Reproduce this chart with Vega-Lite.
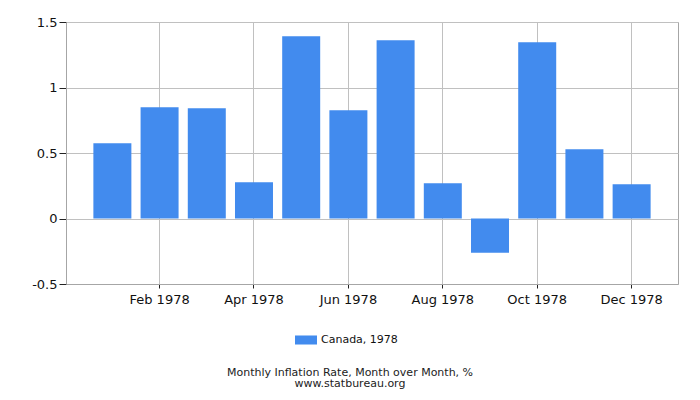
{
  "$schema": "https://vega.github.io/schema/vega-lite/v6.json",
  "width": 612,
  "height": 262,
  "autosize": {"type": "none"},
  "padding": {"left": 66, "top": 22, "right": 22, "bottom": 116},
  "background": "white",
  "data": {
    "values": [
      {"month": "Jan 1978", "rate": 0.575, "series": "Canada, 1978"},
      {"month": "Feb 1978", "rate": 0.85, "series": "Canada, 1978"},
      {"month": "Mar 1978", "rate": 0.842, "series": "Canada, 1978"},
      {"month": "Apr 1978", "rate": 0.277, "series": "Canada, 1978"},
      {"month": "May 1978", "rate": 1.392, "series": "Canada, 1978"},
      {"month": "Jun 1978", "rate": 0.827, "series": "Canada, 1978"},
      {"month": "Jul 1978", "rate": 1.36, "series": "Canada, 1978"},
      {"month": "Aug 1978", "rate": 0.27, "series": "Canada, 1978"},
      {"month": "Sep 1978", "rate": -0.262, "series": "Canada, 1978"},
      {"month": "Oct 1978", "rate": 1.346, "series": "Canada, 1978"},
      {"month": "Nov 1978", "rate": 0.529, "series": "Canada, 1978"},
      {"month": "Dec 1978", "rate": 0.262, "series": "Canada, 1978"}
    ]
  },
  "title": {
    "text": ["Monthly Inflation Rate, Month over Month, %", "www.statbureau.org"],
    "orient": "bottom",
    "anchor": "middle",
    "dx": -22,
    "offset": 22,
    "font": "DejaVu Sans",
    "fontSize": 11,
    "fontWeight": "normal",
    "color": "#222",
    "lineHeight": 10.5
  },
  "mark": {"type": "bar", "color": "#428BEE"},
  "encoding": {
    "x": {
      "field": "month",
      "type": "ordinal",
      "sort": null,
      "scale": {"paddingInner": 0.195, "paddingOuter": 0.58},
      "axis": {
        "title": null,
        "values": ["Feb 1978", "Apr 1978", "Jun 1978", "Aug 1978", "Oct 1978", "Dec 1978"],
        "bandPosition": 0.5,
        "grid": true,
        "labelAngle": 0,
        "tickSize": 4,
        "labelPadding": 5
      }
    },
    "y": {
      "field": "rate",
      "type": "quantitative",
      "scale": {"domain": [-0.5, 1.5], "nice": false},
      "axis": {
        "title": null,
        "values": [-0.5, 0, 0.5, 1, 1.5],
        "labelExpr": "toString(datum.value)",
        "tickSize": 7,
        "labelPadding": 2
      }
    },
    "color": {
      "field": "series",
      "type": "nominal",
      "scale": {"range": ["#428BEE"]},
      "legend": {
        "title": null,
        "orient": "none",
        "legendX": 229,
        "legendY": 307,
        "padding": 0,
        "symbolType": "M-1,-0.41L1,-0.41L1,0.41L-1,0.41Z",
        "symbolSize": 484,
        "symbolStrokeWidth": 0,
        "symbolOpacity": 1,
        "labelFont": "DejaVu Sans",
        "labelFontSize": 11,
        "labelColor": "#111",
        "labelOffset": 4
      }
    }
  },
  "config": {
    "view": {"stroke": "#a6a6a6"},
    "axis": {
      "labelFont": "DejaVu Sans",
      "labelFontSize": 13,
      "labelColor": "#111",
      "domainColor": "#a6a6a6",
      "gridColor": "#c0c0c0",
      "tickColor": "#222"
    }
  }
}
